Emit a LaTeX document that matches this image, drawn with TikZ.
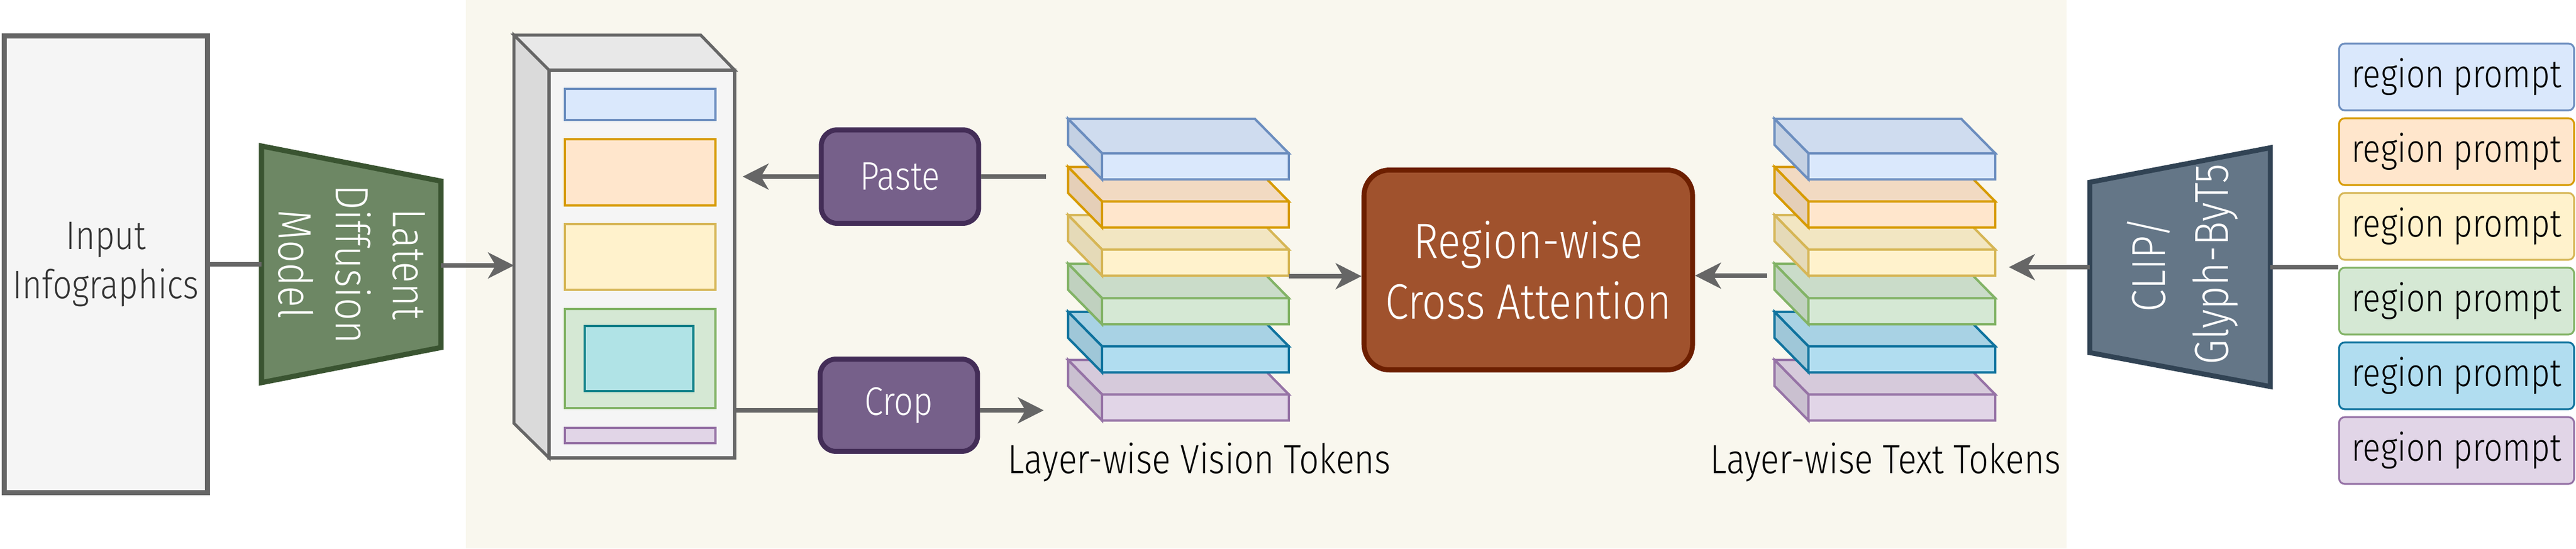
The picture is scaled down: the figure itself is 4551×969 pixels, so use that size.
\documentclass[tikz,border=0pt]{standalone}
\usepackage{fontspec}
\IfFontExistsTF{Fira Sans Light}{%
    \setmainfont{Fira Sans Light}[FakeStretch=0.85]}{%
    \setmainfont{Fira Sans}[FakeStretch=0.85]}
\usetikzlibrary{arrows.meta, positioning, calc}

\definecolor{edgegrey}{HTML}{666666}
\definecolor{boxgrey}{HTML}{F5F5F5}
\definecolor{boxtop}{HTML}{E8E8E8}
\definecolor{boxside}{HTML}{DADADA}
\definecolor{textdark}{HTML}{333333}
\definecolor{panel}{HTML}{F9F7EE}
\definecolor{ldmfill}{HTML}{6D8764}
\definecolor{ldmline}{HTML}{3A5431}
\definecolor{opfill}{HTML}{76608A}
\definecolor{opline}{HTML}{432D57}
\definecolor{attnfill}{HTML}{A0522D}
\definecolor{attnline}{HTML}{6D1F00}
\definecolor{clipfill}{HTML}{647687}
\definecolor{clipline}{HTML}{314354}
\definecolor{fillblue}{HTML}{DAE8FC}
\definecolor{lineblue}{HTML}{6C8EBF}
\definecolor{fillorange}{HTML}{FFE6CC}
\definecolor{lineorange}{HTML}{D79B00}
\definecolor{fillyellow}{HTML}{FFF2CC}
\definecolor{lineyellow}{HTML}{D6B656}
\definecolor{fillgreen}{HTML}{D5E8D4}
\definecolor{linegreen}{HTML}{82B366}
\definecolor{fillcyan}{HTML}{B1DDF0}
\definecolor{linecyan}{HTML}{10739E}
\definecolor{fillpurple}{HTML}{E1D5E7}
\definecolor{linepurple}{HTML}{9673A6}
\definecolor{fillteal}{HTML}{B0E3E6}
\definecolor{lineteal}{HTML}{0E8088}

\begin{document}
\begin{tikzpicture}[x=0.01cm, y=-0.01cm,
        conn/.style={draw=edgegrey, line width=2.3pt},
        arrow/.style={conn, -{Stealth[length=13pt, width=13pt, inset=3.8pt]}},
        opbox/.style={draw=opline, fill=opfill, line width=2.5pt, rounded corners=0.28cm, text=white,
            font=\fontsize{20}{24}\selectfont, minimum width=2.78cm, minimum height=1.65cm},
        region/.style={draw=line#1, fill=fill#1, line width=1.4pt},
        layer/.style={draw=line#1, line width=1.2pt},
        prompt/.style={draw=line#1, fill=fill#1, line width=0.9pt, rounded corners=0.1cm,
            minimum width=4.15cm, minimum height=1.18cm, inner sep=0pt, font=\fontsize{19.5}{22}\selectfont},
        tokenlabel/.style={font=\fontsize{20.5}{24}\selectfont, anchor=base}]
            \useasboundingbox (0,0) rectangle (4551,969);
            % background
            \fill [white] (0,0) rectangle (4551,969);
            \fill [panel] (823,0) rectangle (3651,969);
            % input and diffusion model
            \node[draw=edgegrey, fill=boxgrey, line width=2.6pt, minimum width=3.59cm, minimum height=8.06cm, inner sep=0pt,
                align=center, text=textdark, font=\fontsize{20}{24.8}\selectfont] (input) at (187,467) {Input\\Infographics};
            \draw [draw=ldmline, fill=ldmfill, line width=2.6pt] (462,258) -- (779,320) -- (779,614) -- (462,676) -- cycle;
            \node[rotate=-90, align=center, text=white, font=\fontsize{23.5}{28.7}\selectfont] (ldm) at (621,467) {Latent\\Diffusion\\Model};
            \coordinate (ldmL) at (462,467);
            \coordinate (ldmR) at (779,469);
            % latent box
            \draw [draw=edgegrey, fill=boxtop, line width=1.5pt] (908,62) -- (1238,62) -- (1298,124) -- (970,124) -- cycle;
            \draw [draw=edgegrey, fill=boxside, line width=1.5pt] (908,62) -- (970,124) -- (970,809) -- (908,748) -- cycle;
            \draw [draw=edgegrey, fill=boxgrey, line width=1.5pt] (970,124) rectangle (1298,809);
            \draw [region=blue] (998,157) rectangle (1264,212);
            \draw [region=orange] (998,246) rectangle (1264,363);
            \draw [region=yellow] (998,396) rectangle (1264,512);
            \draw [region=green] (998,546) rectangle (1264,721);
            \draw [region=teal] (1033,576) rectangle (1225,691);
            \draw [region=purple] (998,756) rectangle (1264,783);
            \coordinate (boxL) at (908,469);
            \coordinate (boxPaste) at (1312,312);
            \coordinate (boxCrop) at (1298,725);
            \draw [conn] (input.east) -- (ldmL);
            \draw [arrow] (ldmR) -- (boxL);
            % paste and crop
            \node[opbox] (paste) at (1590,312) {Paste};
            \node[opbox, minimum height=1.63cm] (crop) at (1588,716) {Crop};
            \coordinate (visTop) at (1848,312);
            \coordinate (visIn) at (1844,725);
            \draw [arrow] (paste.west) -- (boxPaste);
            \draw [conn] (paste.east) -- (visTop);
            \draw [conn] (boxCrop) -- (boxCrop -| crop.west);
            \draw [arrow] (visIn -| crop.east) -- (visIn);
            % token stacks
            \foreach \col/\fy in {purple/697, cyan/612, green/527, yellow/441, orange/356, blue/271} {
                \foreach \fx in {1947, 3195} {
                    \draw [layer=\col, fill=fill\col!95!black] (\fx,\fy) -- ++(-60,-61) -- ++(330,0) -- ++(60,61) -- cycle;
                    \draw [layer=\col, fill=fill\col!90!black] (\fx,\fy) -- ++(-60,-61) -- ++(0,46) -- ++(60,61) -- cycle;
                    \draw [layer=\col, fill=fill\col] (\fx,\fy) rectangle ++(330,46);
                }
            }
            \node[tokenlabel] (vislabel) at (2119,836) {Layer-wise Vision Tokens};
            \node[tokenlabel] (txtlabel) at (3331,836) {Layer-wise Text Tokens};
            \coordinate (visOut) at (2277,488);
            \coordinate (txtOut) at (3122,487);
            \coordinate (txtIn) at (3549,472);
            % attention
            \node[draw=attnline, fill=attnfill, line width=2.5pt, rounded corners=0.45cm, minimum width=5.8cm,
                minimum height=3.53cm, align=center, text=white, font=\fontsize{25}{30.5}\selectfont] (attn) at (2700,477) {Region-wise\\Cross Attention};
            \draw [arrow] (visOut) -- (visOut -| attn.west);
            \draw [arrow] (txtOut) -- (txtOut -| attn.east);
            % text encoder and prompts
            \draw [draw=clipline, fill=clipfill, line width=2.5pt] (3692,322) -- (4011,261) -- (4011,683) -- (3692,623) -- cycle;
            \node[rotate=90, align=center, text=white, font=\fontsize{24}{31.5}\selectfont] (clip) at (3856,467) {CLIP/\\Glyph-ByT5};
            \coordinate (clipL) at (3692,472);
            \coordinate (clipR) at (4011,472);
            \draw [arrow] (clipL) -- (txtIn);
            \foreach \col [count=\i from 0] in {blue, orange, yellow, green, cyan, purple}
                \node[prompt=\col] (p\i) at (4340,136+132*\i) {region prompt};
            \draw [conn] (clipR) -- (clipR -| p3.west);
        \end{tikzpicture}
\end{document}
